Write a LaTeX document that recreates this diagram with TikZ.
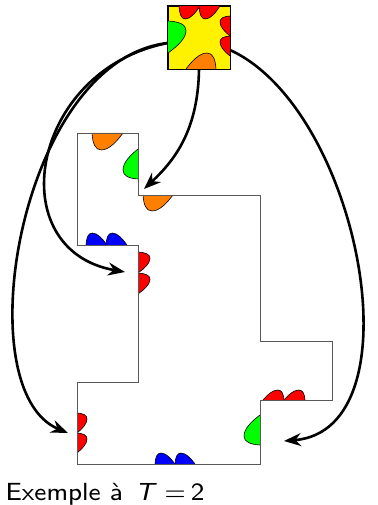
\documentclass[tikz,border=0pt]{standalone}
\usepackage{tikz}
\usetikzlibrary{arrows.meta}
% one coloured notch on an edge: colour, x, y, angle, length, depth
\newcommand{\bump}[6]{%
  \begin{scope}[shift={(#2,#3)}, rotate=#4, xscale=#5, yscale=#6]
    \fill[#1] (0,0) .. controls (0.02,0.6) and (0.1,1) .. (0.3,1) .. controls (0.55,1) and (0.8,0.5) .. (1,0) -- cycle;
    \draw[bumpline] (0,0) .. controls (0.02,0.6) and (0.1,1) .. (0.3,1) .. controls (0.55,1) and (0.8,0.5) .. (1,0);
  \end{scope}}

\begin{document}
\begin{tikzpicture}[x=1pt, y=-1pt, >={Stealth[length=17pt,width=13pt]},
  tilebox/.style={draw, fill=yellow, line width=.8pt, inner sep=0pt, minimum width=62pt, minimum height=63pt},
  outline/.style={draw=black!65, line width=.9pt},
  bumpline/.style={draw=black, line width=.6pt},
  link/.style={->, line width=2.6pt}]
\useasboundingbox (0,0) rectangle (377,505);
% the tile
\node[tilebox] (tile) at (199,37.5) {};
\bump{red}{179}{6}{0}{21}{13}
\bump{red}{199}{6}{0}{21}{13}
\bump{red}{230}{16}{-90}{20}{10}
\bump{red}{230}{36}{-90}{20}{10}
\bump{green}{168}{21}{-90}{32}{-18}
\bump{orange}{216}{69}{180}{30}{16}
\draw[line width=.8pt] (tile.north west) rectangle (tile.south east);
% the region to cover
\bump{orange}{92}{133}{0}{31}{17}
\bump{orange}{143}{195}{0}{30}{16}
\bump{green}{138}{179}{90}{30}{-15}
\foreach \x in {86,106} \bump{blue}{\x}{245}{0}{21}{-12};
\foreach \y in {252,273} \bump{red}{138}{\y}{-90}{21}{-12};
\foreach \y in {413,433} \bump{red}{77}{\y}{-90}{20}{-10};
\foreach \x in {155,175} \bump{blue}{\x}{464}{0}{20}{-11};
\bump{green}{260}{445}{90}{30}{-16}
\foreach \x in {284,305} \bump{red}{\x}{400}{180}{21}{10};
\draw[outline] (77,133) -- (138,133) -- (138,195) -- (260,195) -- (260,341) -- (332,341)
  -- (332,400) -- (260,400) -- (260,464) -- (77,464) -- (77,382) -- (138,382)
  -- (138,245) -- (77,245) -- cycle;
\coordinate (gap1) at (144,189);
\coordinate (gap2) at (125,272);
\coordinate (gap3) at (68,433);
\coordinate (gap4) at (284,441);
\draw[link] (tile.south) .. controls (198,130) and (175,160) .. (gap1);
\draw[link] (tile.190) .. controls (30,70) and (0,250) .. (gap2);
\draw[link] (tile.190) .. controls (20,60) and (-35,390) .. (gap3);
\draw[link] (tile.-22) .. controls (360,110) and (420,430) .. (gap4);
\node[anchor=base west, xscale=3.2, yscale=3.1, font=\fontsize{8}{10}\sffamily, inner sep=0pt] (caption) at (5,500)
  {Exemple à\hspace{.5em}\textit{T}\hspace{.3em}=\hspace{.2em}2};
\end{tikzpicture}
\end{document}
